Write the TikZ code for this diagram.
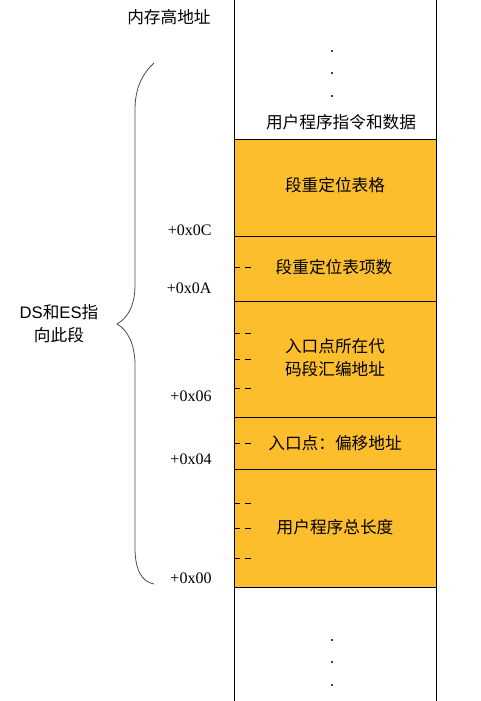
\documentclass[tikz,border=0pt]{standalone}
\usepackage{fontspec}
\setmainfont{Liberation Serif}
\setsansfont{Liberation Sans}
\newfontfamily\cjk{Noto Sans CJK SC}
\definecolor{segfill}{RGB}{252,190,45}

\begin{document}
\begin{tikzpicture}[x=0.75pt, y=-0.75pt, line width=0.75pt, inner sep=0pt,
  align=center, font=\cjk\fontsize{12.5}{17}\selectfont,
  offset/.style={anchor=east, font=\rmfamily\fontsize{12}{14}\selectfont},
  tick/.style={dash pattern=on 4.5pt off 3.75pt}]

\useasboundingbox (0,0) rectangle (481,701);

\fill[segfill] (234,139) rectangle (436,587);
\draw (234,0) -- (234,701);
\draw (436,0) -- (436,701);
\foreach \y in {139,236,301,417,469,587}
  \draw (234,\y) -- (436,\y);

\foreach \y in {267,333,359,388,443,503,528,558}
  \draw[tick] (234,\y) -- (251,\y);

\foreach \y in {51,73,96,640,662,685}
  \fill (332,\y) circle (1.2);

\node (high) at (169,17) {内存高地址};
\node (data) at (341,122) {用户程序指令和数据};
\node (table) at (335,185) {段重定位表格};
\node (count) at (334,267) {段重定位表项数};
\node (entryseg) at (335,358) {入口点所在代\\码段汇编地址};
\node (entryoff) at (335,443) {入口点：偏移地址};
\node (length) at (335,527) {用户程序总长度};

\node[offset] (o0c) at (212,230) {+0x0C};
\node[offset] (o0a) at (212,288) {+0x0A};
\node[offset] (o06) at (212,396) {+0x06};
\node[offset] (o04) at (212,459) {+0x04};
\node[offset] (o00) at (212,578) {+0x00};

\coordinate (bracetop) at (154,63);
\coordinate (bracetip) at (117,324);
\coordinate (bracebot) at (154,584);
\draw[black!70, line width=0.6pt] (bracetop) .. controls (141,75) and (135,90) .. (135,110)
  -- (135,285) .. controls (135,305) and (128,318) .. (bracetip)
  .. controls (128,330) and (135,345) .. (135,365)
  -- (135,548) .. controls (135,570) and (142,582) .. (bracebot);

\node (ds) at (59,324) {\sffamily DS\cjk 和\sffamily ES\cjk 指\\向此段};

\end{tikzpicture}
\end{document}
